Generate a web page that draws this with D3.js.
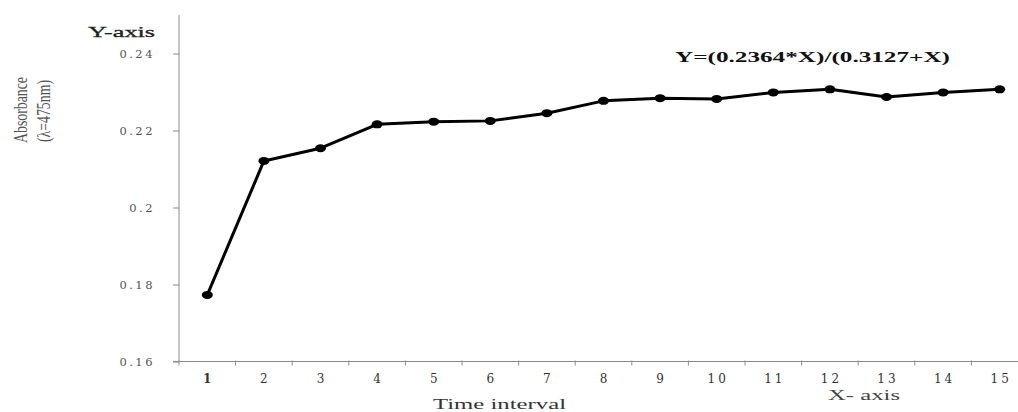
<!DOCTYPE html>
<html>
<head>
<meta charset="utf-8">
<script src="https://cdn.jsdelivr.net/npm/d3@7"></script>
<style>
  body { margin: 0; background: #fff; }
  svg { display: block; }
</style>
</head>
<body>
<div id="chart"></div>
<script>
const width = 1018,
    height = 412

// chart data
const intervals = ['1','2','3','4','5','6','7','8','9','10','11','12','13','14','15']
const absorbance = [0.1773, 0.2121, 0.2154, 0.2216, 0.2223, 0.2225, 0.2245, 0.2277,
  0.2284, 0.2282, 0.2299, 0.2307, 0.2287, 0.2299, 0.2307]
const yTicks = [0.16, 0.18, 0.2, 0.22, 0.24]
const equation = 'Y=(0.2364*X)/(0.3127+X)'

const plotLeft = 179, plotBottom = 361.5, plotTop = 15, plotRight = 1028

const svg = d3.select('#chart')
  .append('svg')
    .attr('width', width)
    .attr('height', height)

const x = d3.scaleBand()
  .domain(intervals)
  .range([plotLeft, plotRight])
  .padding(0)

const y = d3.scaleLinear()
  .domain([0.16, 0.25])
  .range([plotBottom, plotTop])

// y axis
const yAxis = svg.append('g')
  .attr('transform', `translate(${plotLeft},0)`)
  .call(d3.axisLeft(y)
    .tickValues(yTicks)
    .tickSize(6)
    .tickPadding(18)
    .tickFormat(d => String(+d.toFixed(2))))
yAxis.select('.domain').attr('stroke', '#8a8a8a').attr('d', `M0,${plotTop}V${plotBottom}`)
yAxis.selectAll('.tick line').attr('stroke', '#8a8a8a')
yAxis.selectAll('.tick text')
  .style('font-family', '"DejaVu Serif", serif')
  .style('font-size', '11.5px')
  .style('letter-spacing', '2.5px')
  .attr('fill', '#555')

// x axis: labels centred in bands, ticks at band edges
const xAxis = svg.append('g')
  .attr('transform', `translate(0,${plotBottom})`)
xAxis.append('line')
  .attr('x1', plotLeft - 6).attr('x2', plotRight)
  .attr('stroke', '#8a8a8a')
xAxis.selectAll('.xtick')
  .data(intervals)
  .join('line')
  .attr('class', 'xtick')
  .attr('x1', d => x(d)).attr('x2', d => x(d))
  .attr('y1', -1).attr('y2', 4)
  .attr('stroke', '#8a8a8a')
xAxis.selectAll('.xlab')
  .data(intervals)
  .join('text')
  .attr('class', 'xlab')
  .attr('x', d => x(d) + x.bandwidth() / 2 + 1.5)
  .attr('y', 21)
  .attr('text-anchor', 'middle')
  .style('font-family', '"DejaVu Serif", serif')
  .style('font-size', '12px')
  .style('letter-spacing', '3px')
  .style('font-weight', (d, i) => i === 0 ? 'bold' : 'normal')
  .attr('fill', '#333')
  .text(d => d)

// line + markers
const line = d3.line()
  .x((d, i) => x(intervals[i]) + x.bandwidth() / 2)
  .y(d => y(d))

svg.append('path')
  .datum(absorbance)
  .attr('d', line)
  .attr('fill', 'none')
  .attr('stroke', '#000')
  .attr('stroke-width', 3)
  .attr('stroke-linejoin', 'round')

svg.selectAll('.pt')
  .data(absorbance)
  .join('ellipse')
  .attr('class', 'pt')
  .attr('cx', (d, i) => x(intervals[i]) + x.bandwidth() / 2)
  .attr('cy', d => y(d))
  .attr('rx', 5.5)
  .attr('ry', 4)
  .attr('fill', '#000')

// labels
svg.append('text')
  .attr('x', 88).attr('y', 37)
  .attr('textLength', 67).attr('lengthAdjust', 'spacingAndGlyphs')
  .style('font-family', '"Liberation Serif", serif')
  .style('font-size', '14px')
  .attr('fill', '#222')
  .attr('stroke', '#222').attr('stroke-width', 0.3)
  .text('Y-axis')

svg.append('text')
  .attr('x', 675).attr('y', 62)
  .attr('textLength', 275).attr('lengthAdjust', 'spacingAndGlyphs')
  .style('font-family', '"Liberation Serif", serif')
  .style('font-size', '14px')
  .style('font-weight', 'bold')
  .attr('fill', '#111')
  .text(equation)

const ylab = svg.append('g')
  .attr('transform', 'translate(0,110) rotate(-90)')
  .style('font-family', '"Liberation Serif", serif')
  .style('font-size', '18px')
  .attr('fill', '#555')
ylab.append('text')
  .attr('x', -33).attr('y', 27)
  .attr('textLength', 66).attr('lengthAdjust', 'spacingAndGlyphs')
  .text('Absorbance')
ylab.append('text')
  .attr('x', -32).attr('y', 50)
  .attr('textLength', 62).attr('lengthAdjust', 'spacingAndGlyphs')
  .text('(λ=475nm)')

svg.append('text')
  .attr('x', 433).attr('y', 409)
  .attr('textLength', 133).attr('lengthAdjust', 'spacingAndGlyphs')
  .style('font-family', '"Liberation Serif", serif')
  .style('font-size', '14px')
  .attr('fill', '#333')
  .text('Time interval')

svg.append('text')
  .attr('x', 828).attr('y', 400)
  .attr('textLength', 72).attr('lengthAdjust', 'spacingAndGlyphs')
  .style('font-family', '"Liberation Serif", serif')
  .style('font-size', '14px')
  .attr('fill', '#444')
  .text('X- axis')
</script>
</body>
</html>
